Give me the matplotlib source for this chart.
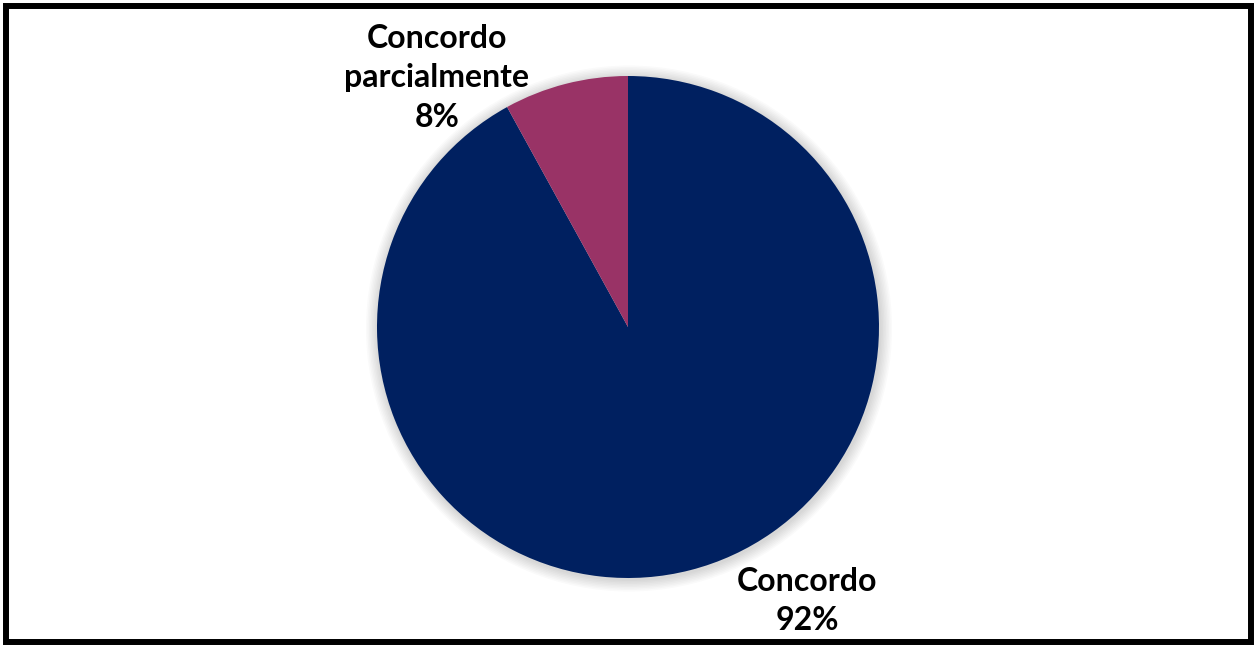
import matplotlib
matplotlib.use("Agg")
import matplotlib.pyplot as plt
from matplotlib.patches import Rectangle, Circle

categories = ["Concordo", "Concordo\nparcialmente"]
values = [92, 8]
colors = ["#002060", "#993366"]

W, H = 1257, 648
fig = plt.figure(figsize=(W / 100, H / 100), dpi=100)
fig.patch.set_facecolor("white")

cx, cy, r = 628, 327, 251
ax = fig.add_axes([(cx - r) / W, (H - cy - r) / H, 2 * r / W, 2 * r / H])
ax.set_xlim(-1, 1)
ax.set_ylim(-1, 1)
ax.set_aspect("equal")
ax.axis("off")

# soft shadow
for i in range(8):
    ax.add_patch(Circle((0.004, -0.006), 1 + 0.006 * (i + 1), color="black",
                        alpha=0.018, lw=0, zorder=0, clip_on=False))

ax.pie(values, colors=colors, startangle=90, counterclock=False, radius=1,
       wedgeprops=dict(linewidth=0), center=(0, 0), frame=False)
ax.set_xlim(-1, 1)
ax.set_ylim(-1, 1)

font = dict(family=["Lato", "DejaVu Sans"], fontweight="bold", fontsize=23,
            ha="center", va="center", color="black", linespacing=1.45)
fig.text(437 / W, 1 - 78 / H, f"{categories[1]}\n{values[1]}%", **font)
fig.text(807 / W, 1 - 601 / H, f"{categories[0]}\n{values[0]}%", **font)

fig.add_artist(Rectangle((6 / W, 6 / H), (W - 12) / W, (H - 12) / H,
                         transform=fig.transFigure, fill=False,
                         edgecolor="black", linewidth=4.3))

fig.savefig("out.png", dpi=100)
